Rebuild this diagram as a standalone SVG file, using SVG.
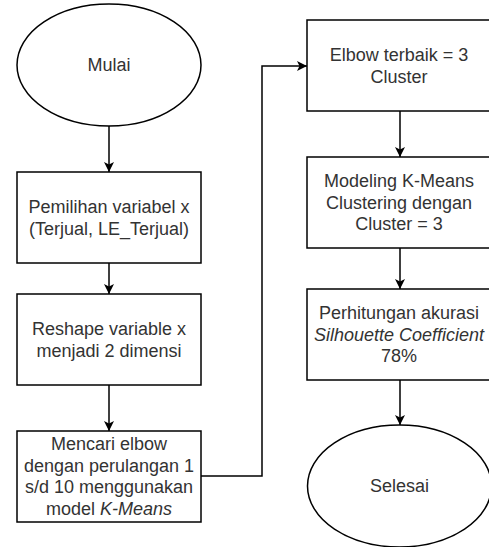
<svg xmlns="http://www.w3.org/2000/svg" width="489" height="547" viewBox="0 0 489 547">
<defs>
<marker id="arr" viewBox="0 0 10 10" refX="10" refY="5" markerWidth="10" markerHeight="10" markerUnits="userSpaceOnUse" orient="auto">
<path d="M0,0 L10,5 L0,10 L2.5,5 z" fill="#000"/>
</marker>
<style>
.shape{fill:#fff;stroke:#000;stroke-width:1.5}
.edge{fill:none;stroke:#000;stroke-width:1.5;marker-end:url(#arr)}
text{font-family:"Liberation Sans",Arial,sans-serif;font-size:18px;fill:#333;text-anchor:middle}
.it{font-style:italic}
</style>
</defs>
<rect width="489" height="547" fill="#fff"/>
<g id="connectors">
<path class="edge" d="M109,126 L109,172"/>
<path class="edge" d="M109,263 L109,294"/>
<path class="edge" d="M109,385 L109,431"/>
<path class="edge" d="M201,476 L262,476 L262,66 L307,66"/>
<path class="edge" d="M400,111 L400,157"/>
<path class="edge" d="M400,248 L400,289"/>
<path class="edge" d="M400,380 L400,425"/>
</g>
<g id="mulai">
<ellipse class="shape" cx="109" cy="65" rx="92" ry="61"/>
<text x="109" y="71">Mulai</text>
</g>
<g id="pemilihan">
<rect class="shape" x="17" y="172" width="184" height="91"/>
<text x="109" y="213">Pemilihan variabel x</text>
<text x="109" y="235">(Terjual, LE_Terjual)</text>
</g>
<g id="reshape">
<rect class="shape" x="17" y="294" width="184" height="91"/>
<text x="109" y="335">Reshape variable x</text>
<text x="109" y="357">menjadi 2 dimensi</text>
</g>
<g id="elbow">
<rect class="shape" x="17" y="431" width="184" height="91"/>
<text x="109" y="450">Mencari elbow</text>
<text x="109" y="472">dengan perulangan 1</text>
<text x="109" y="493">s/d 10 menggunakan</text>
<text x="109" y="515">model <tspan class="it">K-Means</tspan></text>
</g>
<g id="elbow-best">
<rect class="shape" x="307" y="20" width="184" height="91"/>
<text x="399" y="61">Elbow terbaik = 3</text>
<text x="399" y="83">Cluster</text>
</g>
<g id="modeling">
<rect class="shape" x="307" y="157" width="184" height="91"/>
<text x="399" y="187">Modeling K-Means</text>
<text x="399" y="209">Clustering dengan</text>
<text x="399" y="230">Cluster = 3</text>
</g>
<g id="akurasi">
<rect class="shape" x="307" y="289" width="184" height="91"/>
<text x="399" y="319">Perhitungan akurasi</text>
<text x="399" y="341" class="it">Silhouette Coefficient</text>
<text x="399" y="362">78%</text>
</g>
<g id="selesai">
<ellipse class="shape" cx="399.5" cy="486" rx="92" ry="61"/>
<text x="399.5" y="492">Selesai</text>
</g>
</svg>
